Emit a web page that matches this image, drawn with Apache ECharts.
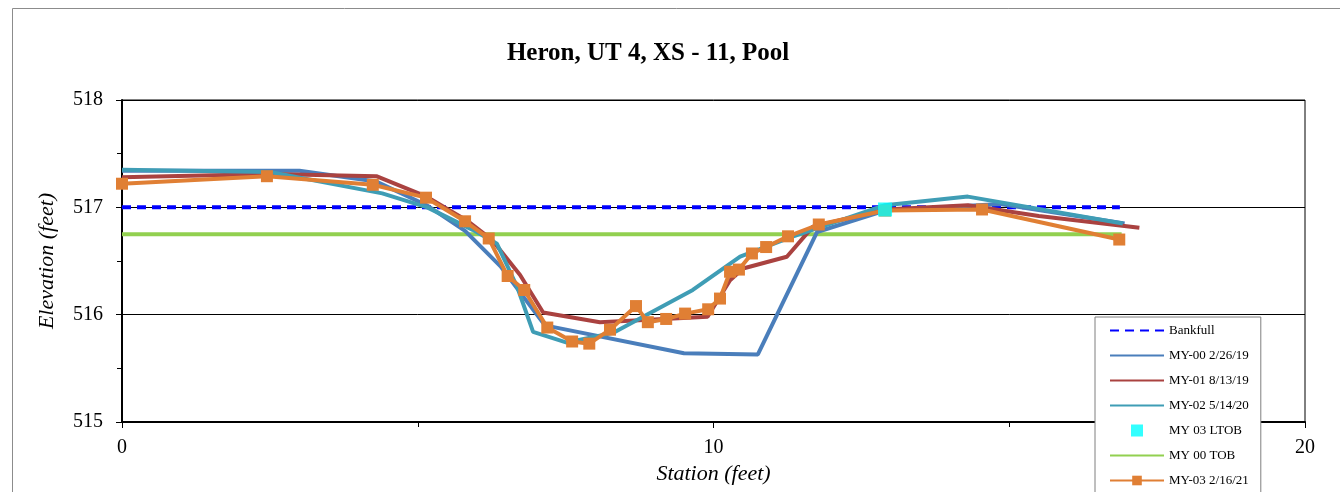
<!DOCTYPE html>
<html>
<head>
<meta charset="utf-8">
<script src="https://cdn.jsdelivr.net/npm/echarts@6/dist/echarts.min.js"></script>
<style>html,body{margin:0;padding:0;background:#fff}#c{width:1340px;height:492px}</style>
</head>
<body>
<div id="c"></div>
<script>
const titleText = "Heron, UT 4, XS - 11, Pool";
const xTicks = [0, 10, 20];
const yTicks = [515, 516, 517, 518];

const bankfullX = [0, 16.87];
const bankfullY = [517.0, 517.0];

const tobX = [0, 16.9];
const tobY = [516.75, 516.75];

const my00X = [0, 3.0, 4.3, 5.15, 5.8, 6.4, 7.15, 9.5, 10.75, 11.75, 12.9, 14.85, 16.95];
const my00Y = [517.34, 517.34, 517.24, 517.02, 516.78, 516.45, 515.9, 515.64, 515.63, 516.77, 516.97, 517.03, 516.85];

const my01X = [0, 2.5, 4.3, 5.15, 5.85, 6.25, 6.73, 7.12, 8.08, 9.9, 10.28, 10.5, 11.24, 11.68, 12.9, 14.3, 15.5, 17.2];
const my01Y = [517.28, 517.31, 517.29, 517.1, 516.87, 516.7, 516.37, 516.02, 515.93, 515.98, 516.32, 516.43, 516.54, 516.82, 516.98, 517.02, 516.92, 516.81];

const my02X = [0, 2.5, 4.4, 5.16, 5.93, 6.34, 6.68, 6.95, 7.52, 8.3, 9.65, 10.45, 11.3, 12.9, 14.3, 16.92];
const my02Y = [517.35, 517.33, 517.13, 517.0, 516.79, 516.66, 516.26, 515.84, 515.74, 515.83, 516.23, 516.54, 516.72, 517.02, 517.1, 516.85];

const ltobX = [12.9];
const ltobY = [516.98];

const my03X = [0, 2.45, 4.24, 5.14, 5.80, 6.20, 6.52, 6.80, 7.19, 7.61, 7.90, 8.25, 8.69, 8.89, 9.20, 9.52, 9.91, 10.11, 10.28, 10.43, 10.65, 10.89, 11.26, 11.78, 12.9, 14.54, 16.86];
const my03Y = [517.22, 517.29, 517.21, 517.09, 516.87, 516.71, 516.36, 516.23, 515.88, 515.75, 515.73, 515.86, 516.08, 515.93, 515.96, 516.01, 516.05, 516.15, 516.40, 516.42, 516.57, 516.63, 516.73, 516.84, 516.97, 516.98, 516.70];

const pairs = (xs, ys) => xs.map((x, i) => [x, ys[i]]);
const serif = '"Liberation Serif", "DejaVu Serif", serif';
const hideSym = {opacity: 0};

const chart = echarts.init(document.getElementById('c'), null, {renderer: 'canvas'});
chart.setOption({
  animation: false,
  backgroundColor: '#fff',
  textStyle: {fontFamily: serif},
  title: {
    text: titleText,
    left: 643, top: 36, textAlign: 'center',
    textStyle: {fontFamily: serif, fontSize: 25, fontWeight: 'bold', color: '#000'}
  },
  graphic: [{
    type: 'rect', silent: true, z: -10,
    shape: {x: 12.5, y: 8.5, width: 1340, height: 500},
    style: {fill: 'none', stroke: '#8c8c8c', lineWidth: 1}
  }],
  grid: {left: 122, right: 35, top: 100, bottom: 70, show: true, borderColor: '#000', borderWidth: 1, backgroundColor: 'transparent'},
  legend: {
    orient: 'vertical', left: 1095, top: 317, height: 190,
    backgroundColor: '#fff', borderColor: '#7f7f7f', borderWidth: 1,
    padding: [7, 12, 8, 14],
    itemWidth: 54, itemHeight: 12, itemGap: 12,
    textStyle: {fontFamily: serif, fontSize: 13, color: '#000'},
    data: [
      {name: 'Bankfull', itemStyle: hideSym},
      {name: 'MY-00 2/26/19', itemStyle: hideSym},
      {name: 'MY-01 8/13/19', itemStyle: hideSym},
      {name: 'MY-02 5/14/20', itemStyle: hideSym},
      {name: 'MY 03 LTOB', icon: 'path://M0,0L10,0L10,10L0,10Z'},
      {name: 'MY 00 TOB', itemStyle: hideSym},
      {name: 'MY-03 2/16/21'}
    ]
  },
  xAxis: {
    type: 'value', min: xTicks[0], max: xTicks[xTicks.length - 1], interval: 10,
    name: 'Station (feet)', nameLocation: 'middle', nameGap: 40,
    nameTextStyle: {fontFamily: serif, fontSize: 22, fontStyle: 'italic', color: '#000'},
    axisLine: {show: true, onZero: false, lineStyle: {color: '#000', width: 2}},
    axisTick: {show: true, inside: false, length: 6, lineStyle: {color: '#000'}},
    minorTick: {show: true, splitNumber: 2, length: 5, lineStyle: {color: '#000'}},
    axisLabel: {fontFamily: serif, fontSize: 20, color: '#000', margin: 16},
    splitLine: {show: false}
  },
  yAxis: {
    type: 'value', min: yTicks[0], max: yTicks[yTicks.length - 1], interval: 1,
    name: 'Elevation (feet)', nameLocation: 'middle', nameGap: 64, nameRotate: 90,
    nameTextStyle: {fontFamily: serif, fontSize: 22, fontStyle: 'italic', color: '#000'},
    axisLine: {show: true, onZero: false, lineStyle: {color: '#000', width: 2}},
    axisTick: {show: true, length: 6, lineStyle: {color: '#000'}},
    minorTick: {show: true, splitNumber: 2, length: 5, lineStyle: {color: '#000'}},
    axisLabel: {fontFamily: serif, fontSize: 20, color: '#000', margin: 19},
    splitLine: {show: true, lineStyle: {color: '#000', width: 1}}
  },
  series: [
    {name: 'Bankfull', type: 'line', data: pairs(bankfullX, bankfullY), symbol: 'none',
     lineStyle: {color: '#0000ff', width: 4, type: [9, 6]}, itemStyle: {color: '#0000ff'}, z: 2},
    {name: 'MY-00 2/26/19', type: 'line', data: pairs(my00X, my00Y), symbol: 'none',
     lineStyle: {color: '#4a7ebb', width: 4}, itemStyle: {color: '#4a7ebb'}, z: 3},
    {name: 'MY-01 8/13/19', type: 'line', data: pairs(my01X, my01Y), symbol: 'none',
     lineStyle: {color: '#aa4240', width: 4}, itemStyle: {color: '#aa4240'}, z: 3},
    {name: 'MY-02 5/14/20', type: 'line', data: pairs(my02X, my02Y), symbol: 'none',
     lineStyle: {color: '#3f9db5', width: 4}, itemStyle: {color: '#3f9db5'}, z: 3},
    {name: 'MY 03 LTOB', type: 'scatter', data: pairs(ltobX, ltobY), symbol: 'rect', symbolSize: 14,
     itemStyle: {color: '#00ffff'}, z: 6},
    {name: 'MY 00 TOB', type: 'line', data: pairs(tobX, tobY), symbol: 'none',
     lineStyle: {color: '#92d050', width: 4}, itemStyle: {color: '#92d050'}, z: 2},
    {name: 'MY-03 2/16/21', type: 'line', data: pairs(my03X, my03Y), symbol: 'rect', symbolSize: 12, showAllSymbol: true,
     lineStyle: {color: '#e07f34', width: 4}, itemStyle: {color: '#e07f34'}, z: 5}
  ]
});
</script>
</body>
</html>
